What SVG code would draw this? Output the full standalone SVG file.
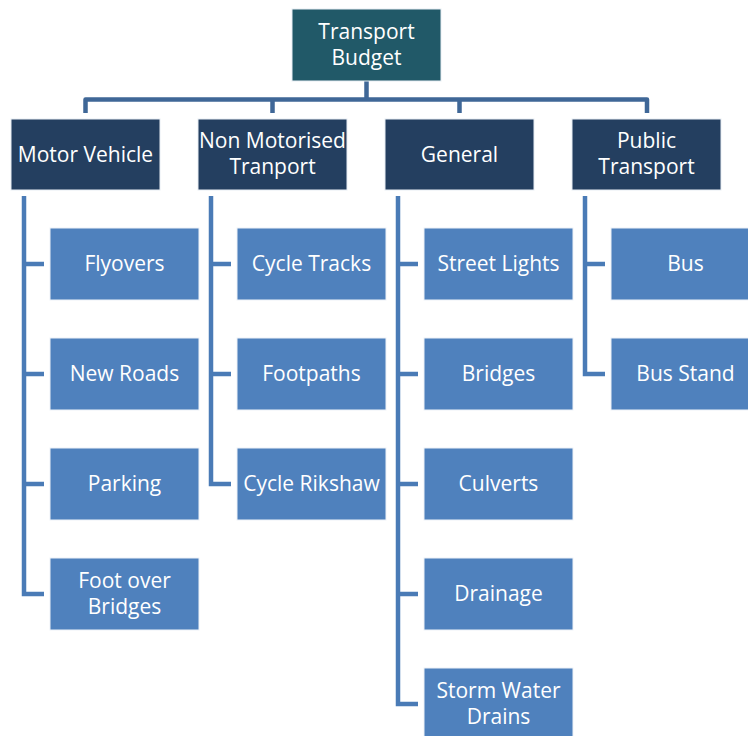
<svg xmlns="http://www.w3.org/2000/svg" width="748" height="736" viewBox="0 0 748 736">
<style>
text{font-family:"Open Sans","Liberation Sans",sans-serif;font-size:21px;fill:#fff;text-anchor:middle}
.root{fill:#215968;stroke:#e8eef4;stroke-width:1}
.l1{fill:#243f60;stroke:#e8eef4;stroke-width:1}
.l2{fill:#4f81bd;stroke:#eef2f8;stroke-width:1}
.c1{fill:none;stroke:#3f6797;stroke-width:4.5;stroke-linejoin:round}
.c2{fill:none;stroke:#4a7bb6;stroke-width:4.5;stroke-linejoin:miter}
</style>
<rect width="748" height="736" fill="#fff"/>
<g id="connectors">
<path class="c1" d="M366.5 81V99.5M85.5 113V99.5H647V113M272.5 99.5V113M459.5 99.5V113"/>
<path class="c2" d="M24 196V594H44M24 264H44M24 374H44M24 484H44"/>
<path class="c2" d="M211 196V484H231M211 264H231M211 374H231"/>
<path class="c2" d="M398 196V704H418M398 264H418M398 374H418M398 484H418M398 594H418"/>
<path class="c2" d="M585 196V374H605M585 264H605"/>
</g>
<g id="root"><rect class="root" x="292" y="9" width="149" height="72"/><text x="366.5" y="39">Transport</text><text x="366.5" y="65">Budget</text></g>
<g id="motor-vehicle"><rect class="l1" x="11" y="119" width="149" height="71"/><text x="85.5" y="162">Motor Vehicle</text></g>
<g id="non-motorised"><rect class="l1" x="198" y="119" width="149" height="71"/><text x="272.5" y="148">Non Motorised</text><text x="272.5" y="174">Tranport</text></g>
<g id="general"><rect class="l1" x="385" y="119" width="149" height="71"/><text x="459.5" y="162">General</text></g>
<g id="public-transport"><rect class="l1" x="572" y="119" width="149" height="71"/><text x="646.5" y="148">Public</text><text x="646.5" y="174">Transport</text></g>

<g id="flyovers"><rect class="l2" x="50" y="228" width="149" height="72"/><text x="124.5" y="271">Flyovers</text></g>
<g id="new-roads"><rect class="l2" x="50" y="338" width="149" height="72"/><text x="124.5" y="381">New Roads</text></g>
<g id="parking"><rect class="l2" x="50" y="448" width="149" height="72"/><text x="124.5" y="491">Parking</text></g>
<g id="foot-over-bridges"><rect class="l2" x="50" y="558" width="149" height="72"/><text x="124.5" y="588">Foot over</text><text x="124.5" y="614">Bridges</text></g>

<g id="cycle-tracks"><rect class="l2" x="237" y="228" width="149" height="72"/><text x="311.5" y="271">Cycle Tracks</text></g>
<g id="footpaths"><rect class="l2" x="237" y="338" width="149" height="72"/><text x="311.5" y="381">Footpaths</text></g>
<g id="cycle-rikshaw"><rect class="l2" x="237" y="448" width="149" height="72"/><text x="311.5" y="491">Cycle Rikshaw</text></g>

<g id="street-lights"><rect class="l2" x="424" y="228" width="149" height="72"/><text x="498.5" y="271">Street Lights</text></g>
<g id="bridges"><rect class="l2" x="424" y="338" width="149" height="72"/><text x="498.5" y="381">Bridges</text></g>
<g id="culverts"><rect class="l2" x="424" y="448" width="149" height="72"/><text x="498.5" y="491">Culverts</text></g>
<g id="drainage"><rect class="l2" x="424" y="558" width="149" height="72"/><text x="498.5" y="601">Drainage</text></g>
<g id="storm-water-drains"><rect class="l2" x="424" y="668" width="149" height="72"/><text x="498.5" y="698">Storm Water</text><text x="498.5" y="724">Drains</text></g>

<g id="bus"><rect class="l2" x="611" y="228" width="149" height="72"/><text x="685.5" y="271">Bus</text></g>
<g id="bus-stand"><rect class="l2" x="611" y="338" width="149" height="72"/><text x="685.5" y="381">Bus Stand</text></g>
</svg>
